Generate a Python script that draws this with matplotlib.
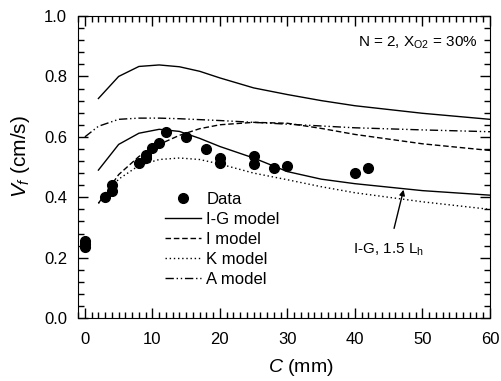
import numpy as np
import matplotlib.pyplot as plt
import matplotlib.ticker as ticker

plt.rcParams['font.family'] = ['Liberation Sans', 'DejaVu Sans']
plt.rcParams['mathtext.fontset'] = 'custom'
plt.rcParams['mathtext.rm'] = 'Liberation Sans'
plt.rcParams['mathtext.it'] = 'Liberation Sans:italic'

# measured data
data_c = [0, 0, 0, 3, 4, 4, 8, 9, 9, 10, 11, 12, 15, 18, 20, 20, 25, 25, 28, 30, 40, 42]
data_v = [0.235, 0.245, 0.255, 0.40, 0.42, 0.44, 0.515, 0.53, 0.54, 0.562, 0.58, 0.615,
          0.598, 0.559, 0.515, 0.53, 0.51, 0.536, 0.496, 0.503, 0.482, 0.498]

# model curves
c_mod = [2, 5, 8, 11, 14, 17, 20, 25, 30, 35, 40, 50, 60]
ig_model = [0.727, 0.80, 0.833, 0.838, 0.832, 0.817, 0.795, 0.762, 0.740, 0.720, 0.703, 0.678, 0.658]
ig_15lh = [0.49, 0.575, 0.612, 0.625, 0.618, 0.595, 0.568, 0.530, 0.485, 0.460, 0.445, 0.422, 0.407]
i_model = [0.38, 0.475, 0.535, 0.575, 0.605, 0.627, 0.640, 0.648, 0.645, 0.628, 0.608, 0.577, 0.555]
k_model = [0.38, 0.46, 0.505, 0.525, 0.53, 0.525, 0.51, 0.48, 0.458, 0.435, 0.415, 0.385, 0.36]
c_a = [0, 2, 5, 8, 11, 14, 17, 20, 25, 30, 35, 40, 50, 60]
a_model = [0.60, 0.635, 0.658, 0.662, 0.662, 0.66, 0.657, 0.654, 0.648, 0.642, 0.636, 0.630, 0.623, 0.617]

fig = plt.figure(figsize=(5.01, 3.81), dpi=100)
ax = fig.add_axes([0.156, 0.165, 0.822, 0.793])

ax.plot(data_c, data_v, 'o', color='k', markersize=7, label='Data', zorder=3)
ax.plot(c_mod, ig_model, '-', color='k', lw=1, label='I-G model')
ax.plot(c_mod, ig_15lh, '-', color='k', lw=1)
ax.plot(c_mod, i_model, color='k', lw=1, linestyle=(0, (4, 2)), label='I model')
ax.plot(c_mod, k_model, color='k', lw=1, linestyle=(0, (1, 2)), label='K model')
ax.plot(c_a, a_model, color='k', lw=1, linestyle=(0, (6, 2, 1, 2, 1, 2)), label='A model')

ax.set_xlim(-1, 60)
ax.set_ylim(0, 1.0)
ax.xaxis.set_major_locator(ticker.MultipleLocator(10))
ax.xaxis.set_minor_locator(ticker.MultipleLocator(1))
ax.yaxis.set_major_locator(ticker.MultipleLocator(0.2))
ax.yaxis.set_minor_locator(ticker.MultipleLocator(0.04))
ax.yaxis.set_major_formatter(ticker.FormatStrFormatter('%.1f'))
ax.tick_params(which='both', direction='in', top=True, right=True, labelsize=12, width=1)
ax.tick_params(which='major', length=7)
ax.tick_params(which='minor', length=4)
ax.tick_params(axis='x', which='major', pad=10)
ax.tick_params(axis='y', which='major', pad=8)

ax.set_xlabel('$\\mathit{C}$ (mm)', fontsize=14)
ax.xaxis.set_label_coords(0.54, -0.13)
ax.set_ylabel('$\\mathit{V_f}$ (cm/s)', fontsize=15)
ax.yaxis.set_label_coords(-0.112, 0.536)

ax.text(0.97, 0.91, 'N = 2, X$_{\\mathrm{O2}}$ = 30%', transform=ax.transAxes,
        ha='right', va='center', fontsize=11)

ax.annotate('I-G, 1.5 L$_{\\mathrm{h}}$', xy=(47.2, 0.425), xytext=(45, 0.225),
            ha='center', va='center', fontsize=11,
            arrowprops=dict(arrowstyle='-|>', color='k', lw=1, shrinkA=8, shrinkB=0,
                            mutation_scale=8))

ax.legend(loc='upper left', bbox_to_anchor=(0.19, 0.446), frameon=False, fontsize=12,
          handlelength=2.2, handletextpad=0.3, labelspacing=0.3, borderpad=0)

fig.savefig('out.png', dpi=100)
